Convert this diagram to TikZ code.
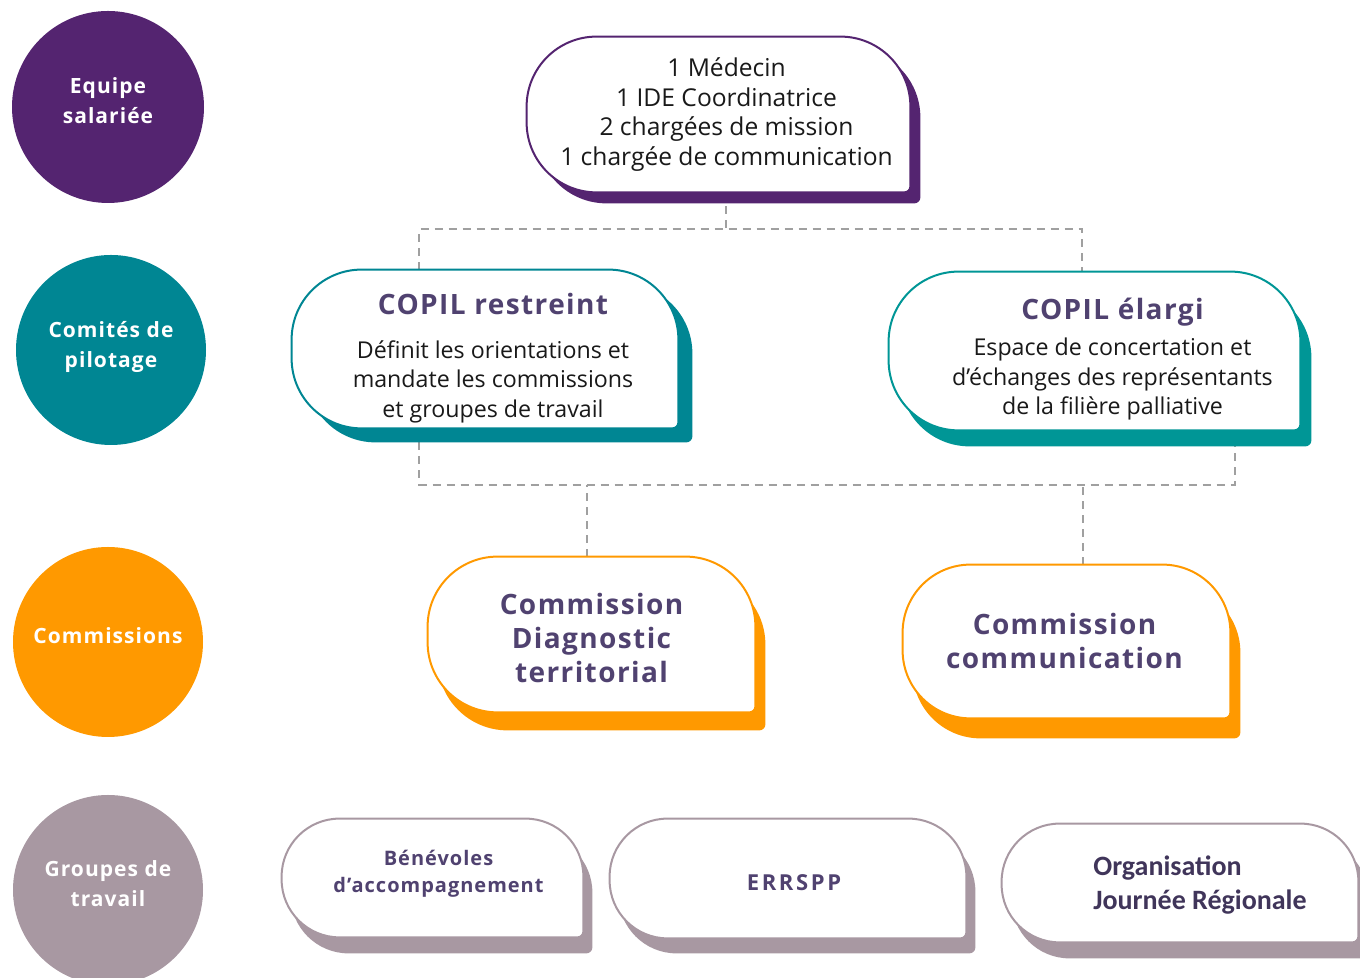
\documentclass[tikz,border=0pt]{standalone}
\usepackage{fontspec}
\setmainfont{Open Sans}
\newfontfamily\wide{Open Sans}[LetterSpace=5]
\newfontfamily\wider{Open Sans}[LetterSpace=12]
\newfontfamily\carl{Carlito}
\usetikzlibrary{calc}
\definecolor{violetE}{RGB}{84,36,112}
\definecolor{tealA}{RGB}{0,134,147}
\definecolor{tealB}{RGB}{0,150,150}
\definecolor{orangeC}{RGB}{255,153,0}
\definecolor{mauveG}{RGB}{168,152,162}
\definecolor{titreC}{RGB}{80,66,112}
\definecolor{dashgrey}{RGB}{160,160,160}
\pgfdeclarelayer{bg}
\pgfsetlayers{bg,main}
\tikzset{level/.style={circle,fill=#1,minimum size=95pt,inner sep=0pt,text=white,align=center,
           text depth=6pt,font=\wide\bfseries\fontsize{10.5}{15}\selectfont},
         body/.style={rectangle,inner sep=0pt},
         box/.style={inner sep=0pt,align=center,text=black!90,
           font=\fontsize{11.6}{14.75}\selectfont},
         boxtitle/.style={box,text=titreC,font=\wide\bfseries\fontsize{14}{17}\selectfont},
         link/.style={draw=dashgrey,line width=1pt,dash pattern=on 4pt off 3pt}}
\newcommand{\titre}[1]{{\wide\bfseries\color{titreC}#1}}
\newcommand{\leaf}[5]{%
\path[#5] let \p1=([shift={(#2,-#3)}]#1.south west),\p2=([shift={(#2,-#3)}]#1.north east) in
 (\x1,\y1+#4) -- (\x1,\y2-#4) arc[start angle=180,end angle=90,radius=#4]
 -- (\x2-#4,\y2) arc[start angle=90,end angle=0,radius=#4]
 -- (\x2,\y1+3pt) arc[start angle=0,end angle=-90,radius=3pt]
 -- (\x1+#4,\y1) arc[start angle=270,end angle=180,radius=#4] -- cycle;}
\newcommand{\boxe}[5]{% node, dx, dy, radius, colour
\leaf{#1}{#2}{#3}{#4}{fill=#5}
\leaf{#1}{0}{0}{#4}{fill=white,draw=#5,line width=1pt}}

\begin{document}
\begin{tikzpicture}[x=0.5pt,y=0.5pt]
\clip(0,0) rectangle (1360,978);

\node[level=violetE,minimum size=96pt] (equipe) at (108,871) {Equipe\\salariée};
\node[level=tealA] (comites) at (111,628) {Comités de\\pilotage};
\node[level=orangeC] (commissions) at (108,336) {Commissions};
\node[level=mauveG] (groupes) at (108,88) {Groupes de\\travail};

\node[body,minimum width=191.5pt,minimum height=77.5pt] (medecin) at (718.5,863.5) {};
\node[body,minimum width=193pt,minimum height=79pt] (restreint) at (485,629) {};
\node[body,minimum width=205.5pt,minimum height=79pt] (elargi) at (1094.5,627) {};
\node[body,minimum width=163.5pt,minimum height=77.5pt] (diag) at (591.5,343.5) {};
\node[body,minimum width=163.5pt,minimum height=76.5pt] (comm) at (1066.5,336.5) {};
\node[body,minimum width=150.5pt,minimum height=59pt] (benevoles) at (432.5,100) {};
\node[body,minimum width=178pt,minimum height=59.5pt] (errspp) at (788,99.5) {};
\node[body,minimum width=178pt,minimum height=59pt] (orga) at (1180,95) {};

\node[box,font=\fontsize{12.3}{14.85}\selectfont] (medecin-t) at ([shift={(8,0)}]medecin.center)
  {1 Médecin\\1 IDE Coordinatrice\\2 chargées de mission\\1 chargée de communication};
\node[box] (restreint-t) at ([shift={(8,-9)}]restreint.center)
  {\titre{\fontsize{14}{18}\selectfont COPIL restreint}\\[7pt]Définit les orientations et\\mandate les commissions\\et groupes de travail};
\node[box] (elargi-t) at ([shift={(18,-8)}]elargi.center)
  {\titre{\fontsize{14}{18}\selectfont COPIL élargi}\\[3.5pt]Espace de concertation et\\d’échanges des représentants\\de la filière palliative};
\node[boxtitle] (diag-t) at ([shift={(0,-4)}]diag.center) {Commission\\Diagnostic\\territorial};
\node[boxtitle] (comm-t) at ([shift={(-2,0)}]comm.center) {Commission\\communication};
\node[boxtitle,font=\wide\bfseries\fontsize{10}{13.5}\selectfont] (benevoles-t) at ([shift={(6,4)}]benevoles.center)
  {Bénévoles\\d’accompagnement};
\node[boxtitle,font=\wider\bfseries\fontsize{11}{13.5}\selectfont] (errspp-t) at ([shift={(6,-4)}]errspp.center)
  {ERRSPP};
\node[box,align=left,text=titreC!80!black,font=\carl\bfseries\fontsize{14}{17}\selectfont] (orga-t) at ([shift={(20,-2)}]orga.center)
  {Organisation\\Journée Régionale};

\coordinate (topbus) at (0,749);
\coordinate (lowbus) at (0,493);
\coordinate (m1) at ($(medecin.south west)!0.52!(medecin.south east)$);
\coordinate (r1) at ($(restreint.north west)!0.33!(restreint.north east)$);
\coordinate (e1) at ($(elargi.north west)!0.47!(elargi.north east)$);
\coordinate (r2) at ($(restreint.south west)!0.33!(restreint.south east)$);
\coordinate (e2) at ($(elargi.south west)!0.84!(elargi.south east)$);
\coordinate (d1) at ($(diag.north west)!0.486!(diag.north east)$);
\coordinate (c1) at ($(comm.north west)!0.55!(comm.north east)$);

\begin{pgfonlayer}{bg}
\draw[link](m1)--(m1|-topbus);
\draw[link](r1)--(r1|-topbus)-|(e1);
\draw[link](r2)--(r2|-lowbus)-|(e2);
\draw[link](d1)--(d1|-lowbus);
\draw[link](c1)--(c1|-lowbus);
\boxe{medecin}{10}{11}{35pt}{violetE}
\boxe{restreint}{14}{14}{35pt}{tealA}
\boxe{elargi}{11}{16}{35pt}{tealB}
\boxe{diag}{10}{18}{35pt}{orangeC}
\boxe{comm}{10}{20}{34pt}{orangeC}
\boxe{benevoles}{9}{16}{29pt}{mauveG}
\boxe{errspp}{9}{15}{29pt}{mauveG}
\boxe{orga}{10}{16}{29pt}{mauveG}
\end{pgfonlayer}
\end{tikzpicture}
\end{document}
